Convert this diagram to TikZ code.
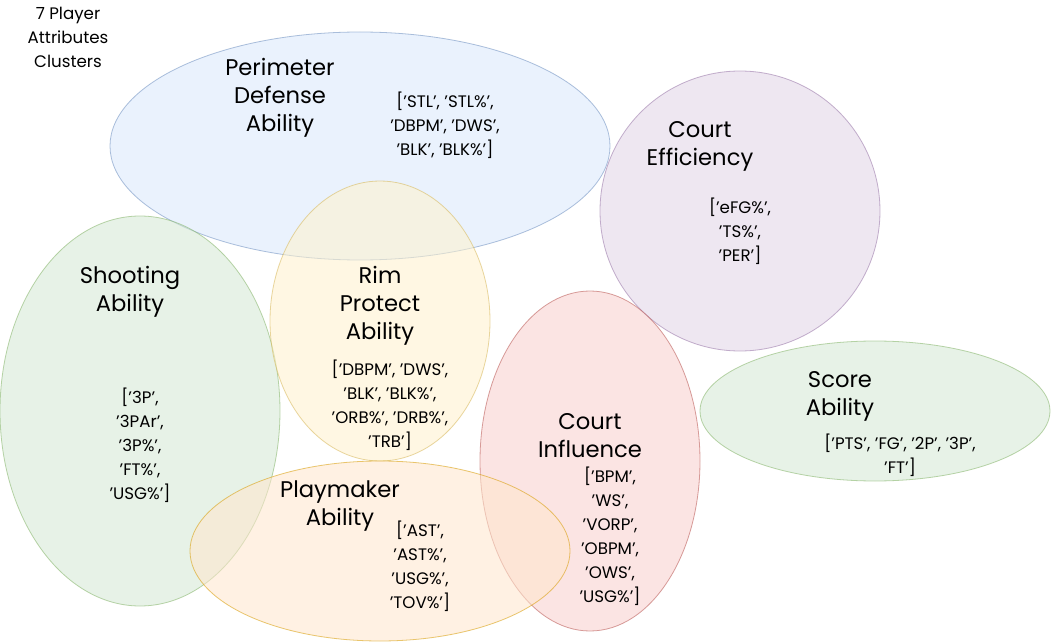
\documentclass[tikz,border=0pt]{standalone}
\usepackage{fontspec}
\setmainfont{Poppins}
\definecolor{bfill}{HTML}{DAE8FC}\definecolor{bline}{HTML}{6C8EBF}
\definecolor{pfill}{HTML}{E1D5E7}\definecolor{pline}{HTML}{9673A6}
\definecolor{gfill}{HTML}{D5E8D4}\definecolor{gline}{HTML}{82B366}
\definecolor{yfill}{HTML}{FFF2CC}\definecolor{yline}{HTML}{D6B656}
\definecolor{rfill}{HTML}{F8CECC}\definecolor{rline}{HTML}{B85450}
\definecolor{ofill}{HTML}{FFE6CC}\definecolor{oline}{HTML}{D79B00}
\tikzset{
  blob/.style={fill opacity=0.55, draw opacity=0.55, line width=0.6pt},
  head/.style={align=center, font=\fontsize{17}{21}\selectfont, inner sep=0pt},
  lst/.style={align=center, font=\fontsize{12.5}{18}\selectfont, inner sep=0pt},
  note/.style={align=center, font=\fontsize{12.5}{18}\selectfont, inner sep=0pt}
}
\begin{document}
\begin{tikzpicture}[x=0.75pt,y=-0.75pt]
\useasboundingbox (0,0) rectangle (1051,642);
\fill[white] (0,0) rectangle (1051,642);
% ellipses
\draw[blob, fill=bfill, draw=bline] (360,146) ellipse [x radius=250, y radius=114];
\draw[blob, fill=pfill, draw=pline] (740,211) ellipse [x radius=140, y radius=140];
\draw[blob, fill=gfill, draw=gline] (140,411) ellipse [x radius=140, y radius=195];
\draw[blob, fill=yfill, draw=yline] (380,321) ellipse [x radius=110, y radius=140];
\draw[blob, fill=rfill, draw=rline] (590,461) ellipse [x radius=110, y radius=170];
\draw[blob, fill=gfill, draw=gline] (875,411) ellipse [x radius=175, y radius=70];
\draw[blob, fill=ofill, draw=oline] (380,551) ellipse [x radius=190, y radius=90];
% texts
\node[note] (title) at (68,37) {7 Player\\Attributes\\Clusters};
\node[head] (perh) at (280,98) {Perimeter\\Defense\\Ability};
\node[lst] (perl) at (445,125) {['STL', 'STL\%',\\'DBPM', 'DWS',\\'BLK', 'BLK\%']};
\node[head] (effh) at (700,146) {Court\\Efficiency};
\node[lst] (effl) at (740,231) {['eFG\%',\\'TS\%',\\'PER']};
\node[head] (shoh) at (130,292) {Shooting\\Ability};
\node[lst] (shol) at (140,445) {['3P',\\'3PAr',\\'3P\%',\\'FT\%',\\'USG\%']};
\node[head] (rimh) at (380,306) {Rim\\Protect\\Ability};
\node[lst] (riml) at (390,405) {['DBPM', 'DWS',\\'BLK', 'BLK\%',\\'ORB\%', 'DRB\%',\\'TRB']};
\node[head] (infh) at (590,436) {Court\\Influence};
\node[lst] (infl) at (610,536) {['BPM',\\'WS',\\'VORP',\\'OBPM',\\'OWS',\\'USG\%']};
\node[head] (plah) at (340,506) {Playmaker\\Ability};
\node[lst] (plal) at (420,566) {['AST',\\'AST\%',\\'USG\%',\\'TOV\%']};
\node[head] (scoh) at (840,396) {Score\\Ability};
\node[lst] (scol) at (900,455) {['PTS', 'FG', '2P', '3P',\\'FT']};
\end{tikzpicture}
\end{document}
